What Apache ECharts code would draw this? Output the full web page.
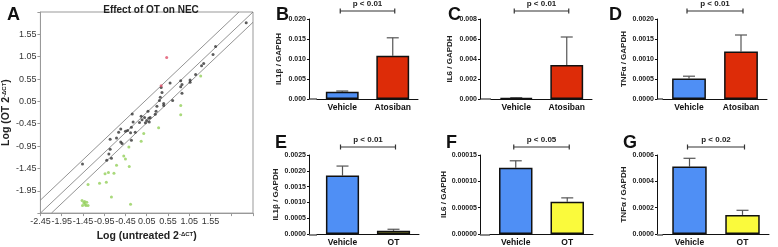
<!DOCTYPE html>
<html>
<head>
<meta charset="utf-8">
<script src="https://cdn.jsdelivr.net/npm/echarts@6/dist/echarts.min.js"></script>
<style>
  html, body { margin: 0; padding: 0; background: #fff; }
  #chart { width: 778px; height: 247px; }
</style>
</head>
<body>
<div id="chart"></div>
<script>
// ---- panel A: scatter of log expression (untreated vs OT) ----
const unchangedGenes = [
  [2.39, 1.81], [1.67, 1.28], [1.61, 1.10], [1.39, 0.90], [1.34, 0.85], [1.20, 0.65],
  [1.07, 0.53], [1.07, 0.48], [0.85, 0.51], [0.88, 0.43], [0.85, 0.38], [0.88, 0.23],
  [0.60, 0.46], [0.39, 0.36], [0.41, 0.25], [0.37, 0.14], [0.35, 0.07], [0.45, 0.00],
  [0.45, -0.04], [0.29, -0.06], [0.66, 0.07], [0.27, -0.17], [0.25, -0.24], [0.08, -0.17],
  [0.13, -0.31], [0.11, -0.41], [0.00, -0.31], [0.02, -0.43], [-0.06, -0.36], [-0.08, -0.28],
  [-0.29, -0.23], [-0.27, -0.41], [-0.31, -0.53], [-0.31, -0.82], [-0.22, -0.64], [-0.40, -0.60],
  [-0.33, -0.65], [-0.56, -0.57], [-0.61, -0.64], [-0.56, -0.86], [-0.53, -0.89], [-0.66, -0.77],
  [-0.81, -0.80], [-0.81, -1.02], [-0.84, -1.13], [-0.78, -1.22], [-0.89, -1.27], [-1.46, -1.35],
  [0.05, -0.38], [0.10, -0.33], [-0.12, -0.42], [-0.45, -0.62]
]
const downGenes = [
  [1.32, 0.62], [0.85, -0.04], [0.85, -0.25], [0.33, -0.54], [-0.02, -0.67], [-0.08, -0.84],
  [-0.37, -0.97], [-0.49, -1.17], [-0.45, -1.24], [-0.36, -1.41], [-0.66, -1.38], [-0.72, -1.56],
  [-0.85, -1.54], [-0.93, -1.57], [-1.06, -1.78], [-0.90, -1.76], [-0.78, -2.09], [-0.33, -2.25],
  [-1.33, -1.81], [-1.47, -2.17], [-1.43, -2.22], [-1.40, -2.25], [-1.36, -2.21], [-1.46, -2.28],
  [-1.38, -2.28], [-1.33, -2.28], [-1.41, -2.19]
]
const upGenes = [[0.52, 1.03], [0.39, 0.40]]

// identity line and the two fold-change bounds
const identityLine = [[-2.45, -2.45], [2.55, 2.05]]
const upperBound = [[-2.45, -2.16], [2.22, 2.05]]
const lowerBound = [[-2.19, -2.45], [2.55, 1.82]]

// ---- panels B-G: bar charts (mean and SEM) ----
const atosibanGroups = ['Vehicle', 'Atosiban']
const otGroups = ['Vehicle', 'OT']

const il1bAtoMean = [0.0018, 0.0108]
const il1bAtoSem = [0.0002, 0.0045]
const il6AtoMean = [0.0001, 0.0034]
const il6AtoSem = [0.00003, 0.0028]
const tnfAtoMean = [0.00051, 0.00119]
const tnfAtoSem = [0.00006, 0.00041]

const il1bOtMean = [0.00185, 0.0001]
const il1bOtSem = [0.0003, 0.00005]
const il6OtMean = [0.000126, 0.0000611]
const il6OtSem = [0.000013, 0.0000075]
const tnfOtMean = [0.000512, 0.000145]
const tnfOtSem = [0.000063, 0.000035]

const pLabels = ['p < 0.01', 'p < 0.01', 'p < 0.01', 'p < 0.01', 'p < 0.05', 'p < 0.02']

const BLUE = '#4f8ff5'
const RED = '#dd2c08'
const YELLOW = '#fafa3c'
const FONT = 'Liberation Sans, Arial, sans-serif'

const panels = [
  { letter: 'B', grid: { left: 317, top: 19, width: 101, height: 80 }, offset: 8, gap: 26,
    cats: atosibanGroups, mean: il1bAtoMean, sem: il1bAtoSem, max: 0.020, step: 0.005, dec: 3,
    name: 'IL1β / GAPDH', colors: [BLUE, RED] },
  { letter: 'C', grid: { left: 491, top: 19, width: 101, height: 80 }, offset: 11, gap: 26,
    cats: atosibanGroups, mean: il6AtoMean, sem: il6AtoSem, max: 0.008, step: 0.002, dec: 3,
    name: 'IL6 / GAPDH', colors: [BLUE, RED] },
  { letter: 'D', grid: { left: 663, top: 19, width: 104, height: 80 }, offset: 6, gap: 29,
    cats: atosibanGroups, mean: tnfAtoMean, sem: tnfAtoSem, max: 0.0020, step: 0.0005, dec: 4,
    name: 'TNFα / GAPDH', colors: [BLUE, RED] },
  { letter: 'E', grid: { left: 317, top: 155, width: 102, height: 80 }, offset: 8, gap: 29,
    cats: otGroups, mean: il1bOtMean, sem: il1bOtSem, max: 0.0025, step: 0.0005, dec: 4,
    name: 'IL1β / GAPDH', colors: [BLUE, YELLOW] },
  { letter: 'F', grid: { left: 490, top: 155, width: 103, height: 80 }, offset: 10, gap: 31,
    cats: otGroups, mean: il6OtMean, sem: il6OtSem, max: 0.00015, step: 0.00005, dec: 5,
    name: 'IL6 / GAPDH', colors: [BLUE, YELLOW] },
  { letter: 'G', grid: { left: 663, top: 155, width: 106, height: 80 }, offset: 6, gap: 29,
    cats: otGroups, mean: tnfOtMean, sem: tnfOtSem, max: 0.0006, step: 0.0002, dec: 4,
    name: 'TNFα / GAPDH', colors: [BLUE, YELLOW] }
]

const chart = echarts.init(document.getElementById('chart'))

// error bar: stem from bar top up to mean+sem, with a cap
const renderErrorBar = (params, api) => {
  const base = api.coord([api.value(0), api.value(1)])
  const hi = api.coord([api.value(0), api.value(2)])
  const style = { stroke: '#555', lineWidth: 1.2 }
  return {
    type: 'group',
    children: [
      { type: 'line', shape: { x1: base[0], y1: base[1], x2: hi[0], y2: hi[1] }, style },
      { type: 'line', shape: { x1: hi[0] - 6, y1: hi[1], x2: hi[0] + 6, y2: hi[1] }, style }
    ]
  }
}

const lineSeries = (data) => ({
  type: 'line', xAxisIndex: 0, yAxisIndex: 0, data, symbol: 'none', silent: true,
  lineStyle: { color: '#777', width: 0.8 }, z: 1
})
const scatterSeries = (data, color) => ({
  type: 'scatter', xAxisIndex: 0, yAxisIndex: 0, data, symbolSize: 3,
  itemStyle: { color }, z: 3
})

const supRich = { sup: { fontSize: 6, fontWeight: 'bold', verticalAlign: 'top', padding: [0, 0, 5, 0] } }

const grids = [{ left: 38, top: 12, width: 215, height: 208, show: true, borderColor: '#999', borderWidth: 1 }]
const xAxes = [{
  gridIndex: 0, type: 'value', min: -2.45, max: 2.55, interval: 0.5,
  axisLine: { onZero: false, lineStyle: { color: '#999' } },
  axisTick: { length: 3, lineStyle: { color: '#999' } },
  splitLine: { show: false },
  axisLabel: {
    fontSize: 9, color: '#333', fontFamily: FONT, margin: 4,
    formatter: v => (v > 1.6 ? '' : v.toFixed(2))
  },
  name: 'Log (untreated 2{sup|-ΔCT})', nameLocation: 'middle', nameGap: 14,
  nameTextStyle: { fontSize: 10.5, fontWeight: 'bold', color: '#222', fontFamily: FONT, rich: supRich }
}]
const yAxes = [{
  gridIndex: 0, type: 'value', min: -2.45, max: 2.05, interval: 0.5,
  axisLine: { onZero: false, lineStyle: { color: '#999' } },
  axisTick: { length: 3, lineStyle: { color: '#999' } },
  splitLine: { show: false },
  axisLabel: {
    fontSize: 9, color: '#333', fontFamily: FONT, margin: 4,
    formatter: v => (v < -2.2 || v > 1.6 ? '' : v.toFixed(2))
  },
  name: 'Log (OT 2{sup|-ΔCT})', nameLocation: 'middle', nameGap: 24,
  nameTextStyle: { fontSize: 10.5, fontWeight: 'bold', color: '#222', fontFamily: FONT, rich: supRich }
}]
const series = [
  lineSeries(identityLine), lineSeries(upperBound), lineSeries(lowerBound),
  scatterSeries(unchangedGenes, '#333'),
  scatterSeries(downGenes, '#94d05a'),
  scatterSeries(upGenes, '#e0506a')
]

panels.forEach((p, i) => {
  const idx = i + 1
  grids.push(p.grid)
  xAxes.push({
    gridIndex: idx, type: 'category', data: p.cats,
    axisLine: { lineStyle: { color: '#111', width: 1 } },
    axisTick: { show: false },
    axisLabel: { fontSize: 8.5, fontWeight: 'bold', color: '#111', fontFamily: FONT, margin: 4 }
  })
  yAxes.push({
    gridIndex: idx, type: 'value', min: 0, max: p.max, interval: p.step, offset: p.offset,
    axisLine: { show: true, lineStyle: { color: '#111', width: 1 } },
    axisTick: { show: true, length: 2, lineStyle: { color: '#111' } },
    splitLine: { show: false },
    axisLabel: {
      fontSize: 7, fontWeight: 'bold', color: '#222', fontFamily: FONT, margin: 3,
      formatter: v => v.toFixed(p.dec)
    },
    name: p.name, nameLocation: 'middle', nameGap: p.gap,
    nameTextStyle: { fontSize: 8, fontWeight: 'bold', color: '#222', fontFamily: FONT }
  })
  series.push({
    type: 'bar', xAxisIndex: idx, yAxisIndex: idx, barWidth: '65%', z: 3,
    data: p.mean.map((v, j) => ({
      value: v,
      itemStyle: { color: p.colors[j], borderColor: '#111', borderWidth: 1.5 }
    }))
  })
  series.push({
    type: 'custom', xAxisIndex: idx, yAxisIndex: idx, z: 2, silent: true,
    renderItem: renderErrorBar,
    data: p.mean.map((v, j) => [j, v, v + p.sem[j]])
  })
})

const letterStyle = { fontSize: 18, fontWeight: 'bold', color: '#111', fontFamily: FONT }
const titles = [
  { text: 'Effect of OT on NEC', left: 146, top: 0, textAlign: 'center',
    textStyle: { fontSize: 10, fontWeight: 'bold', color: '#222', fontFamily: FONT } },
  { text: 'A', left: 2, top: 1, textStyle: letterStyle },
  { text: 'B', left: 271, top: 1, textStyle: letterStyle },
  { text: 'C', left: 443, top: 1, textStyle: letterStyle },
  { text: 'D', left: 604, top: 1, textStyle: letterStyle },
  { text: 'E', left: 270, top: 129, textStyle: letterStyle },
  { text: 'F', left: 441, top: 129, textStyle: letterStyle },
  { text: 'G', left: 618, top: 129, textStyle: letterStyle }
]

chart.setOption({
  animation: false,
  title: titles,
  grid: grids,
  xAxis: xAxes,
  yAxis: yAxes,
  series
})

// significance brackets placed from the category positions
const graphics = []
panels.forEach((p, i) => {
  const idx = i + 1
  const a = chart.convertToPixel({ xAxisIndex: idx, yAxisIndex: idx }, [0, 0])
  const b = chart.convertToPixel({ xAxisIndex: idx, yAxisIndex: idx }, [1, 0])
  const x1 = a[0] - 2
  const x2 = b[0] + 2
  const y = p.grid.top - 8
  const style = { stroke: '#333', lineWidth: 1.2 }
  graphics.push(
    { type: 'line', shape: { x1, y1: y, x2, y2: y }, style },
    { type: 'line', shape: { x1, y1: y - 2.5, x2: x1, y2: y + 2.5 }, style },
    { type: 'line', shape: { x1: x2, y1: y - 2.5, x2, y2: y + 2.5 }, style },
    { type: 'text', x: (x1 + x2) / 2, y: y - 7,
      style: { text: pLabels[i], fontSize: 8, fontWeight: 'bold', fill: '#222', fontFamily: FONT,
               align: 'center', verticalAlign: 'middle' } }
  )
  // join the x axis line to the offset y axis
  const bottom = p.grid.top + p.grid.height
  graphics.push({
    type: 'line', shape: { x1: p.grid.left - p.offset, y1: bottom, x2: p.grid.left, y2: bottom },
    style: { stroke: '#111', lineWidth: 1 }
  })
})
chart.setOption({ graphic: graphics })
</script>
</body>
</html>
